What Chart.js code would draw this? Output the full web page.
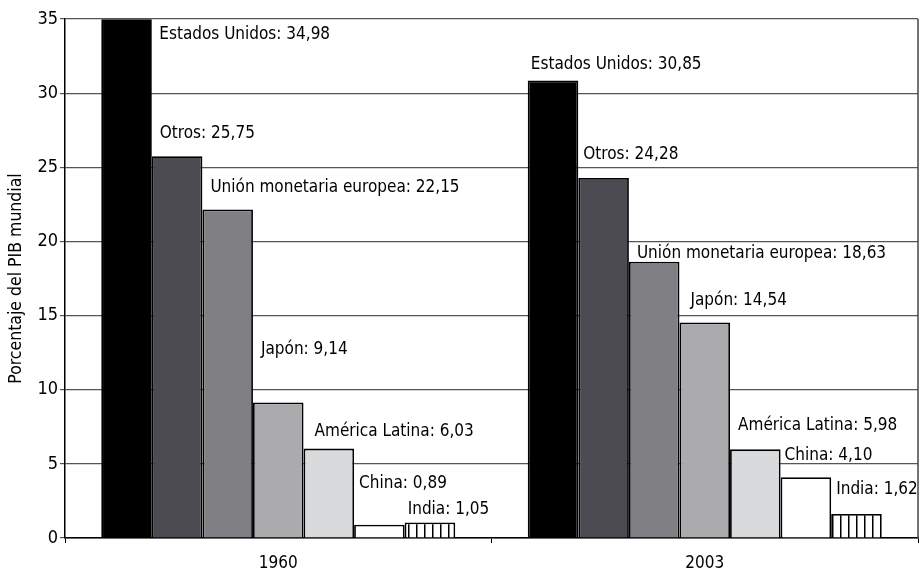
<!DOCTYPE html>
<html>
<head>
<meta charset="utf-8">
<script src="https://cdn.jsdelivr.net/npm/chart.js@4/dist/chart.umd.min.js"></script>
<style>
  html, body { margin: 0; padding: 0; background: #fff; }
  #wrap { width: 922px; height: 573px; }
</style>
</head>
<body>
<div id="wrap"><canvas id="pibChart"></canvas></div>
<script>
// Data
const years = ['1960', '2003'];
const regions = ['Estados Unidos', 'Otros', 'Unión monetaria europea', 'Japón', 'América Latina', 'China', 'India'];
const share1960 = [34.98, 25.75, 22.15, 9.14, 6.03, 0.89, 1.05];
const share2003 = [30.85, 24.28, 18.63, 14.54, 5.98, 4.10, 1.62];
const yTicks = [0, 5, 10, 15, 20, 25, 30, 35];

const FONT = "'Liberation Sans Narrow', 'DejaVu Sans Condensed', 'Liberation Sans', sans-serif";

// vertical hatch for India
function hatchPattern() {
    const c = document.createElement('canvas');
    c.width = 8; c.height = 8;
    const g = c.getContext('2d');
    g.fillStyle = '#fff';
    g.fillRect(0, 0, 8, 8);
    g.fillStyle = '#000';
    g.fillRect(0, 0, 1.5, 8);
    return document.createElement('canvas').getContext('2d').createPattern(c, 'repeat');
}

const fills = ['#000000', '#4b4b51', '#808084', '#ababae', '#d9dadc', '#ffffff', hatchPattern()];

// label nudges (x from bar left edge, y above bar top), per year / region
const labelNudge = {
    0: [[58, -15], [8, 23], [8, 22], [8, 53], [11, 17], [5, 41], [3, 13]],
    1: [[3, 16], [5, 23], [8, 8], [11, 22], [8, 24], [4, 22], [5, 24]]
};

const datasets = regions.map((name, i) => ({
    label: name,
    data: [share1960[i], share2003[i]],
    backgroundColor: fills[i],
    borderColor: '#000',
    borderWidth: 1.8,
    borderSkipped: 'bottom',
    categoryPercentage: 0.83,
    barPercentage: 1.0
}));

const valueLabels = {
    id: 'valueLabels',
    afterDatasetsDraw(chart) {
        const ctx = chart.ctx;
        ctx.save();
        ctx.font = '17px ' + FONT;
        ctx.fillStyle = '#000';
        ctx.textBaseline = 'middle';
        ctx.textAlign = 'left';
        chart.data.datasets.forEach((ds, i) => {
            chart.getDatasetMeta(i).data.forEach((bar, j) => {
                const left = bar.x - bar.width / 2;
                const n = labelNudge[j][i];
                const txt = ds.label + ': ' + ds.data[j].toFixed(2).replace('.', ',');
                ctx.fillText(txt, left + n[0], bar.y - n[1]);
            });
        });
        ctx.restore();
    }
};

const frame = {
    id: 'frame',
    afterDatasetsDraw(chart) {
        const a = chart.chartArea;
        const ctx = chart.ctx;
        ctx.save();
        ctx.strokeStyle = '#444';
        ctx.lineWidth = 1.5;
        ctx.beginPath();
        ctx.moveTo(a.right, a.top);
        ctx.lineTo(a.right, a.bottom);
        ctx.stroke();
        ctx.restore();
    }
};

new Chart(document.getElementById('pibChart'), {
    type: 'bar',
    data: { labels: years, datasets: datasets },
    options: {
        responsive: true,
        maintainAspectRatio: false,
        animation: false,
        layout: { padding: { top: 19, right: 4, left: 0, bottom: 0 } },
        plugins: {
            legend: { display: false },
            tooltip: { enabled: false }
        },
        scales: {
            x: {
                grid: { offset: true, drawOnChartArea: false, tickLength: 5, color: '#000' },
                border: { color: '#000', width: 1.5 },
                ticks: { color: '#000', font: { family: FONT, size: 17 }, padding: 10 },
                afterFit(s) { s.height = 35; }
            },
            y: {
                min: 0,
                max: 35,
                afterBuildTicks(s) { s.ticks = yTicks.map(v => ({ value: v })); },
                grid: { color: '#555', lineWidth: 1.2, tickLength: 5 },
                border: { color: '#000', width: 1.5 },
                ticks: { color: '#000', font: { family: FONT, size: 18 }, padding: 2 },
                title: {
                    display: true,
                    text: 'Porcentaje del PIB mundial',
                    color: '#000',
                    font: { family: FONT, size: 17.5 },
                    padding: { top: 6, bottom: 8 }
                },
                afterFit(s) { s.width = 65; }
            }
        }
    },
    plugins: [valueLabels, frame]
});
</script>
</body>
</html>
